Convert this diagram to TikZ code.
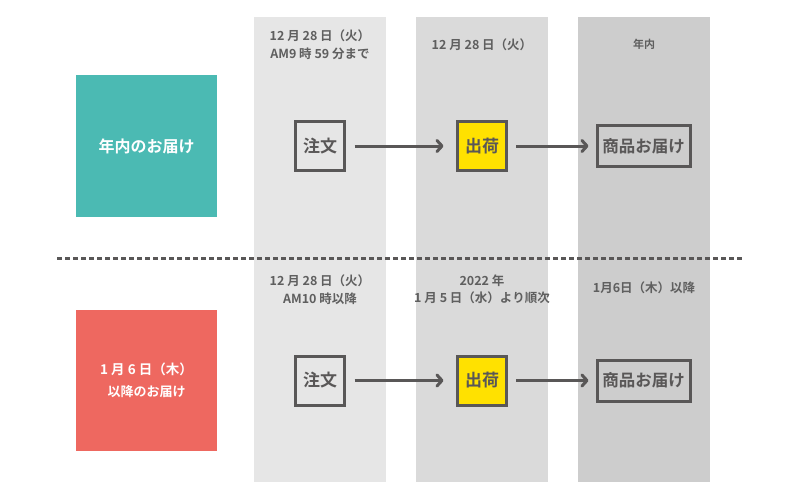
\documentclass[tikz,border=0pt]{standalone}
\usepackage{fontspec}
\setmainfont{Noto Sans CJK JP}[BoldFont={Noto Sans CJK JP Bold}]
\usetikzlibrary{arrows.meta}
\definecolor{teal1}{HTML}{4BBAB3}
\definecolor{red1}{HTML}{EE6860}
\definecolor{yel1}{HTML}{FFE100}
\definecolor{col1}{HTML}{E6E6E6}
\definecolor{col2}{HTML}{DADADA}
\definecolor{col3}{HTML}{CDCDCD}
\definecolor{dk}{HTML}{595757}
\definecolor{hd}{HTML}{5F5F5F}
\tikzset{
  head/.style={text=hd, align=center, inner sep=0pt, font=\bfseries\fontsize{12.5}{17.5}\selectfont},
  sq/.style={draw=dk, line width=3pt, fill=#1, minimum width=49pt, minimum height=49pt, inner sep=0pt, text=dk, font=\bfseries\fontsize{17}{20}\selectfont},
  wide/.style={draw=dk, line width=3pt, fill=none, minimum width=93pt, minimum height=41pt, inner sep=0pt, text=dk, font=\bfseries\fontsize{16.5}{20}\selectfont},
  side/.style={fill=#1, draw=none, minimum width=141pt, minimum height=141pt, inner sep=0pt, text=white, align=center},
  flow/.style={draw=dk, line width=3pt, -{Straight Barb[length=5pt,width=11pt,line cap=round,line join=round]}},
  sep/.style={draw=dk, line width=3pt, dash pattern=on 5pt off 3pt}
}
\begin{document}
\begin{tikzpicture}[x=1pt,y=-1pt]
\useasboundingbox (0,0) rectangle (800,500);
% columns
\fill[col1] (254,17) rectangle (386,482);
\fill[col2] (416,17) rectangle (548,482);
\fill[col3] (578,17) rectangle (710,482);
% left labels
\node[side=teal1, font=\bfseries\fontsize{16}{20}\selectfont] (l1) at (146.5,146) {年内のお届け};
\node[side=red1, font=\bfseries\fontsize{13.5}{22}\selectfont] (l2) at (146.5,380.5) {1 月 6 日（木）\\{\fontsize{13}{22}\selectfont 以降のお届け}};
% separator
\coordinate (s1) at (57,258);
\coordinate (s2) at (743,258);
\draw[sep] (s1) -- (s2);
% headers top
\node[head] (h1) at (320,44.5) {12 月 28 日（火）\\AM9 時 59 分まで};
\node[head] (h2) at (482,45) {12 月 28 日（火）};
\node[head, font=\bfseries\fontsize{11}{16}\selectfont] (h3) at (644,44.5) {年内};
% headers bottom
\node[head] (h4) at (320,289.5) {12 月 28 日（火）\\AM10 時以降};
\node[head] (h5) at (482,289.5) {2022 年\\1 月 5 日（水）より順次};
\node[head] (h6) at (644,288) {1月6日（木）以降};
% top flow
\node[sq=none] (a1) at (320,146) {注文};
\node[sq=yel1] (b1) at (482,146) {出荷};
\node[wide] (c1) at (643.5,146) {商品お届け};
\draw[flow, shorten <=8.5pt, shorten >=12.5pt] (a1.east) -- (b1.west);
\draw[flow, shorten <=8pt, shorten >=7pt] (b1.east) -- (c1.west);
% bottom flow
\node[sq=none] (a2) at (320,380.5) {注文};
\node[sq=yel1] (b2) at (482,380.5) {出荷};
\node[wide] (c2) at (643.5,380.5) {商品お届け};
\draw[flow, shorten <=8.5pt, shorten >=12.5pt] (a2.east) -- (b2.west);
\draw[flow, shorten <=8pt, shorten >=7pt] (b2.east) -- (c2.west);
\end{tikzpicture}
\end{document}
